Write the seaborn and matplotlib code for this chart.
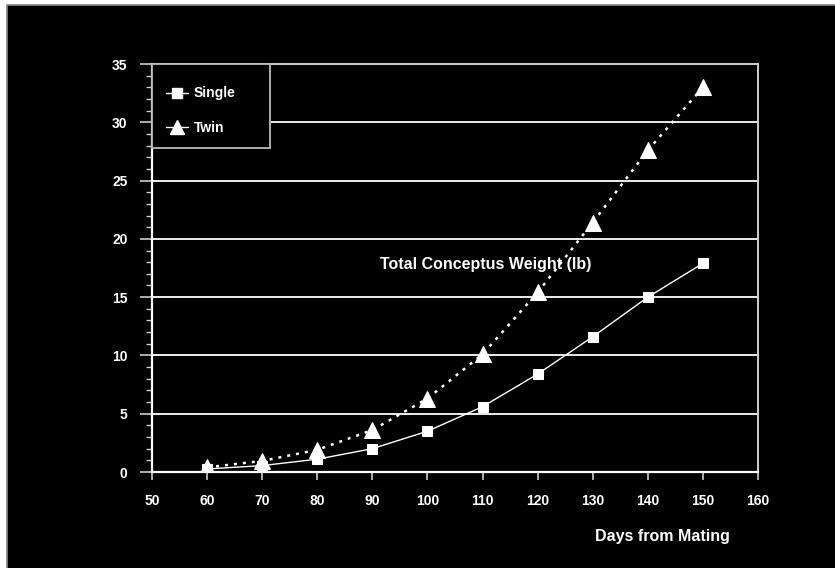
import matplotlib
matplotlib.use("Agg")
import matplotlib.pyplot as plt
import seaborn as sns
import pandas as pd
from matplotlib.patches import Rectangle
from matplotlib.lines import Line2D
from matplotlib.ticker import MultipleLocator

days = [60, 70, 80, 90, 100, 110, 120, 130, 140, 150]
single = [0.26, 0.55, 1.1, 2.0, 3.5, 5.6, 8.4, 11.6, 15.0, 17.9]
twin = [0.4, 0.95, 1.9, 3.6, 6.3, 10.1, 15.4, 21.4, 27.6, 33.0]
x_ticks = [50, 60, 70, 80, 90, 100, 110, 120, 130, 140, 150, 160]
y_ticks = [0, 5, 10, 15, 20, 25, 30, 35]
series_names = ["Single", "Twin"]
annotation = "Total Conceptus Weight (lb)"
x_label = "Days from Mating"

sns.set_style("white")
plt.rcParams["font.family"] = ["Liberation Sans", "DejaVu Sans"]
plt.rcParams["font.weight"] = "bold"

df = pd.DataFrame({"days": days, "Single": single, "Twin": twin})

fig = plt.figure(figsize=(8.35, 5.68), dpi=100, facecolor="white")
# black panel with thin grey edge on top and left only
fig.patches.append(Rectangle((7 / 835, -0.1), 1.2, 1.1 - 5 / 568, transform=fig.transFigure,
                             facecolor="black", edgecolor="#888888", linewidth=1.2,
                             zorder=-10))
ax = fig.add_axes([152 / 835, 96 / 568, 606 / 835, 408 / 568])
ax.set_facecolor("black")

sns.lineplot(data=df, x="days", y="Single", ax=ax, color="white", linewidth=1.0,
             marker="s", markersize=7.5, markeredgecolor="white", markerfacecolor="white",
             zorder=5)
sns.lineplot(data=df, x="days", y="Twin", ax=ax, color="white", linewidth=1.8,
             linestyle=(0, (1.2, 2.4)), marker="^", markersize=11,
             markeredgecolor="white", markerfacecolor="white", zorder=5)

ax.set_xlim(50, 160)
ax.set_ylim(0, 35)
ax.set_xticks(x_ticks)
ax.set_yticks(y_ticks)
ax.yaxis.set_minor_locator(MultipleLocator(1))
ax.set_xlabel("")
ax.set_ylabel("")

for yv in y_ticks[1:-1]:
    ax.axhline(yv, color="white", linewidth=1.3, zorder=1)

for side in ["left", "bottom"]:
    ax.spines[side].set_color("white")
    ax.spines[side].set_linewidth(1.6)
for side in ["top", "right"]:
    ax.spines[side].set_color("#d0d0d0")
    ax.spines[side].set_linewidth(1.4)

ax.tick_params(axis="y", which="major", direction="out", length=8.6, width=1.2,
               color="#cccccc", labelcolor="white", labelsize=10, pad=9, left=True)
ax.tick_params(axis="y", which="minor", direction="out", length=4.3, width=1.0,
               color="#cccccc", left=True)
ax.tick_params(axis="x", which="major", direction="out", length=6, width=1.2,
               color="#cccccc", labelcolor="white", labelsize=10, pad=10, bottom=True)
for lab in ax.get_xticklabels() + ax.get_yticklabels():
    lab.set_fontweight("bold")

# legend box
ax.add_patch(Rectangle((0, (472 - 148) / 408), (270 - 152) / 606, (148 - 64) / 408,
                       transform=ax.transAxes, facecolor="black", edgecolor="#bbbbbb",
                       linewidth=1.3, zorder=3, clip_on=False))
handles = [Line2D([], [], color="white", linewidth=1.0, marker="s", markersize=7),
           Line2D([], [], color="white", linewidth=1.0, marker="^", markersize=10)]
leg = ax.legend(handles, series_names, loc="upper left",
                bbox_to_anchor=(1 / 606, 1 - 10 / 408), frameon=False,
                handlelength=1.6, handletextpad=0.45, labelspacing=1.5,
                prop={"weight": "bold", "size": 10})
for t in leg.get_texts():
    t.set_color("white")
leg.set_zorder(6)

ax.text(91.4, 17.8, annotation, color="white", fontsize=11.5, fontweight="bold",
        ha="left", va="center", zorder=7)
fig.text(662 / 835, 1 - 536 / 568, x_label, color="white", fontsize=11.5,
         fontweight="bold", ha="center", va="center")

fig.savefig("out.png", dpi=100, facecolor="white")
